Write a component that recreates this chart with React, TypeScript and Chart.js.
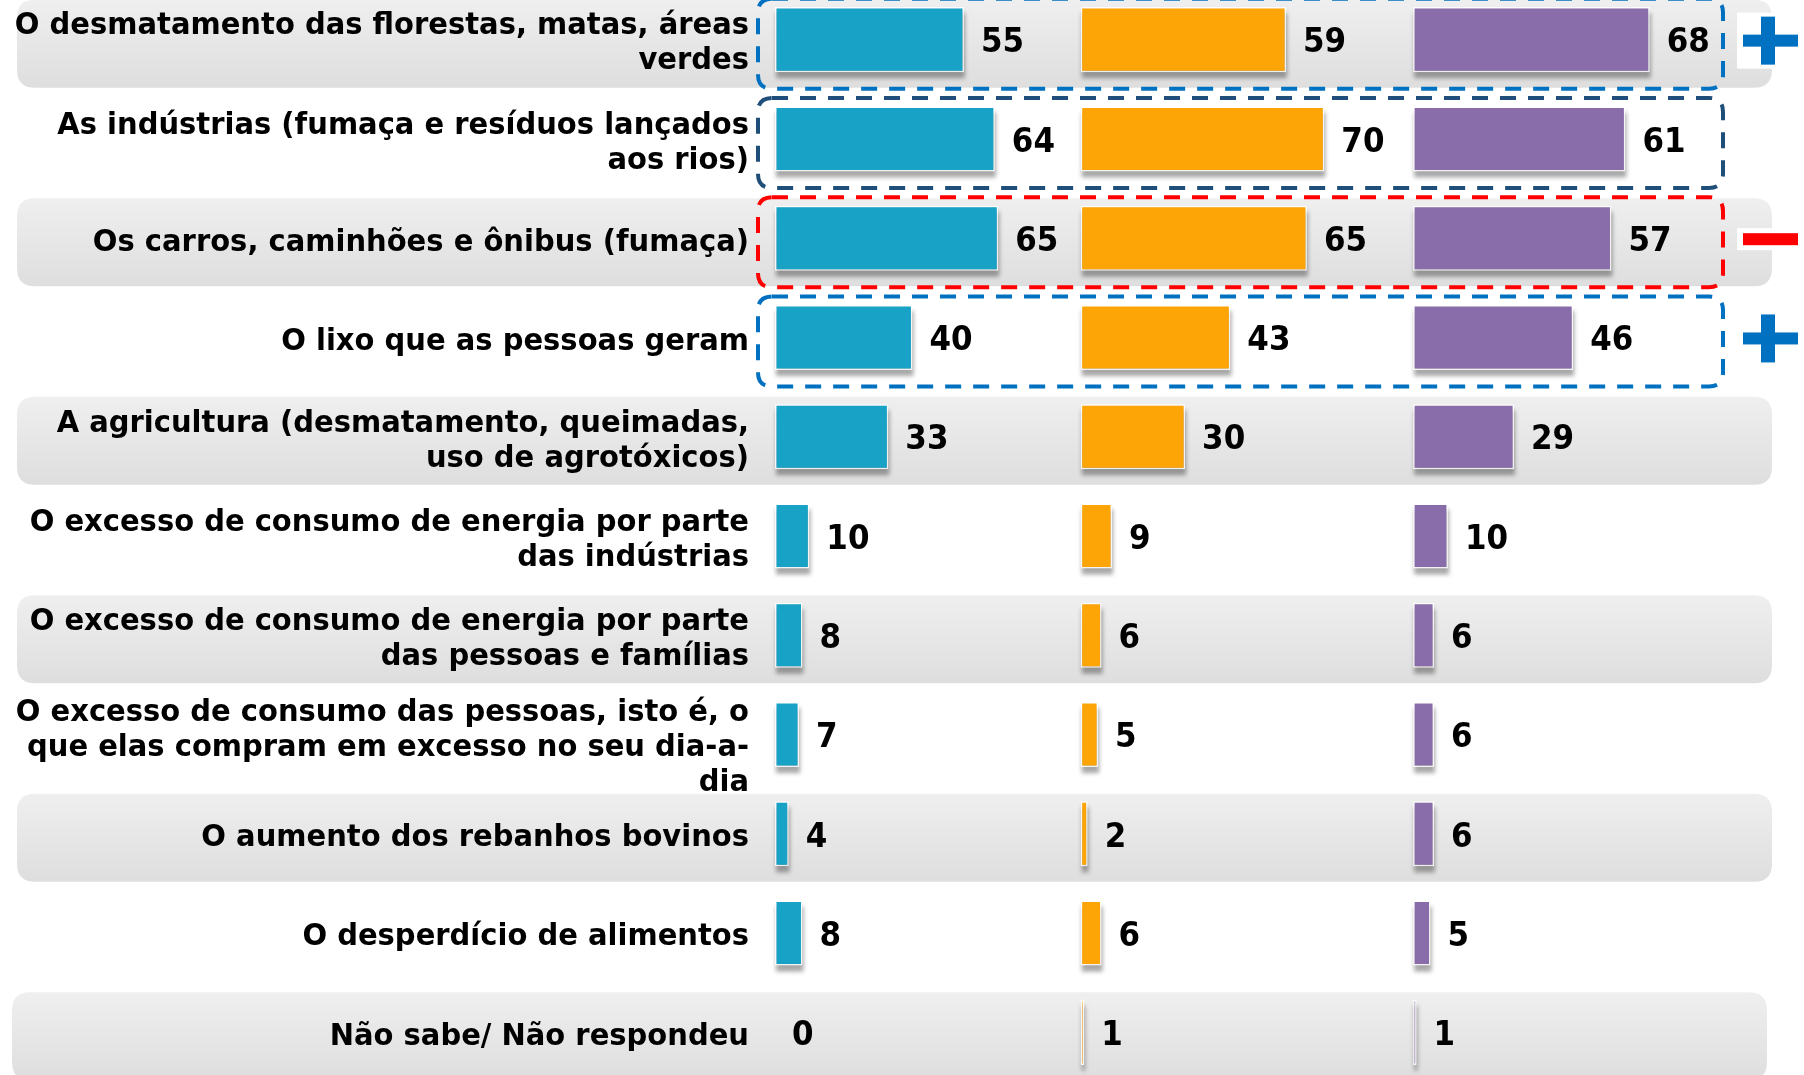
import React, { useEffect, useRef } from "react";
import { Chart, registerables } from "chart.js";

Chart.register(...registerables);

// ---- Data ----
const categoryLines: string[][] = [
  ["O desmatamento das florestas, matas, áreas", "verdes"],
  ["As indústrias (fumaça e resíduos lançados", "aos rios)"],
  ["Os carros, caminhões e ônibus (fumaça)"],
  ["O lixo que as pessoas geram"],
  ["A agricultura (desmatamento, queimadas,", "uso de agrotóxicos)"],
  ["O excesso de consumo de energia por parte", "das indústrias"],
  ["O excesso de consumo de energia por parte", "das pessoas e famílias"],
  ["O excesso de consumo das pessoas, isto é, o", "que elas compram em excesso no seu dia-a-", "dia"],
  ["O aumento dos rebanhos bovinos"],
  ["O desperdício de alimentos"],
  ["Não sabe/ Não respondeu"],
];
const categories = categoryLines.map((l) => l.join(" "));

const seriesNames = ["Série 1", "Série 2", "Série 3"];
const tealValues = [55, 64, 65, 40, 33, 10, 8, 7, 4, 8, 0];
const orangeValues = [59, 70, 65, 43, 30, 9, 6, 5, 2, 6, 1];
const purpleValues = [68, 61, 57, 46, 29, 10, 6, 6, 6, 5, 1];

const seriesColors = ["#17A2C6", "#FDA507", "#896DAA"];

const bandRows = [0, 2, 4, 6, 8, 10];
const highlightRows = [0, 1, 2, 3];
const highlightColors = ["#0070C0", "#1F4E79", "#FF0000", "#0070C0"];
const signRows = [0, 2, 3];
const signTypes = ["+", "-", "+"];
const signColors = ["#0070C0", "#FF0000", "#0070C0"];

const W = 1804;
const H = 1092;

function roundRect(ctx: CanvasRenderingContext2D, x: number, y: number, w: number, h: number, r: number) {
  ctx.beginPath();
  ctx.moveTo(x + r, y);
  ctx.lineTo(x + w - r, y);
  ctx.quadraticCurveTo(x + w, y, x + w, y + r);
  ctx.lineTo(x + w, y + h - r);
  ctx.quadraticCurveTo(x + w, y + h, x + w - r, y + h);
  ctx.lineTo(x + r, y + h);
  ctx.quadraticCurveTo(x, y + h, x, y + h - r);
  ctx.lineTo(x, y + r);
  ctx.quadraticCurveTo(x, y, x + r, y);
  ctx.closePath();
}

function stretchedText(ctx: CanvasRenderingContext2D, text: string, x: number, y: number, sy: number) {
  ctx.save();
  ctx.translate(x, y);
  ctx.scale(1, sy);
  ctx.fillText(text, 0, 0);
  ctx.restore();
}

const decorPlugin = {
  id: "decor",
  beforeDatasetsDraw(chart: any) {
    const ctx: CanvasRenderingContext2D = chart.ctx;
    const ys = chart.scales.y;
    // gray bands
    bandRows.forEach((r) => {
      const cy = ys.getPixelForValue(r) + 4;
      const last = r === categories.length - 1;
      const x0 = last ? 12 : 17;
      const x1 = last ? 1767 : 1772;
      const top = cy - 44;
      const g = ctx.createLinearGradient(0, top, 0, top + 88);
      g.addColorStop(0, "#efefef");
      g.addColorStop(1, "#dedede");
      ctx.save();
      ctx.fillStyle = g;
      roundRect(ctx, x0, top, x1 - x0, 88, 18);
      ctx.fill();
      ctx.restore();
    });
    // category labels
    ctx.save();
    ctx.fillStyle = "#000";
    ctx.font = 'bold 29px "DejaVu Sans", Verdana, sans-serif';
    ctx.textAlign = "right";
    ctx.textBaseline = "middle";
    categoryLines.forEach((lines, i) => {
      const n = lines.length;
      const cy = ys.getPixelForValue(i) + 4.5 + Math.max(0, n - 2) * 9;
      lines.forEach((t, k) => {
        stretchedText(ctx, t, 749, cy + (k - (n - 1) / 2) * 35, 1.04);
      });
    });
    ctx.restore();
    // bar shadows
    chart.data.datasets.forEach((_ds: any, di: number) => {
      const meta = chart.getDatasetMeta(di);
      meta.data.forEach((bar: any) => {
        const p = bar.getProps(["x", "y", "base", "height"], true);
        const w = p.x - p.base;
        if (w < 0.5) return;
        ctx.save();
        ctx.filter = "blur(2px)";
        ctx.fillStyle = "rgba(0,0,0,0.34)";
        ctx.fillRect(p.base + 1, p.y - p.height / 2 + 6, w, p.height);
        ctx.restore();
      });
    });
  },
  afterDatasetsDraw(chart: any) {
    const ctx: CanvasRenderingContext2D = chart.ctx;
    const ys = chart.scales.y;
    // value labels
    ctx.save();
    ctx.fillStyle = "#000";
    ctx.font = 'bold 31px "DejaVu Sans", Verdana, sans-serif';
    ctx.textAlign = "left";
    ctx.textBaseline = "middle";
    chart.data.datasets.forEach((ds: any, di: number) => {
      const meta = chart.getDatasetMeta(di);
      meta.data.forEach((bar: any, i: number) => {
        const p = bar.getProps(["x", "y"], true);
        stretchedText(ctx, String(ds.data[i]), p.x + 17, p.y + 4, 1.08);
      });
    });
    ctx.restore();
    // dashed highlight boxes
    highlightRows.forEach((r, k) => {
      const cy = ys.getPixelForValue(r) + 4;
      ctx.save();
      ctx.strokeStyle = highlightColors[k];
      ctx.lineWidth = 4;
      ctx.setLineDash([16, 12]);
      roundRect(ctx, 758, cy - 45, 1723 - 758, 90, 14);
      ctx.stroke();
      ctx.restore();
    });
    // plus / minus signs
    signRows.forEach((r, k) => {
      const cy = ys.getPixelForValue(r) + 1;
      ctx.save();
      ctx.fillStyle = "#ffffff";
      if (signTypes[k] === "+") {
        ctx.fillRect(1737, cy - 28, 36, 56);
      } else {
        ctx.fillRect(1737, cy - 11, 36, 22);
      }
      ctx.fillStyle = signColors[k];
      ctx.fillRect(1743, cy - 6, 55, 12);
      if (signTypes[k] === "+") {
        ctx.fillRect(1761, cy - 24, 14, 48);
      }
      ctx.restore();
    });
  },
};

export default function App() {
  const ref = useRef<HTMLCanvasElement | null>(null);

  useEffect(() => {
    if (!ref.current) return;
    const common = {
      grouped: false,
      barPercentage: 0.655,
      categoryPercentage: 1,
      borderWidth: 1.5,
      borderColor: "rgba(255,255,255,0.85)",
      borderSkipped: false,
    };
    const chart = new Chart(ref.current, {
      type: "bar",
      data: {
        labels: categories,
        datasets: [
          { ...common, label: seriesNames[0], data: tealValues, xAxisID: "x1", backgroundColor: seriesColors[0] },
          { ...common, label: seriesNames[1], data: orangeValues, xAxisID: "x2", backgroundColor: seriesColors[1] },
          { ...common, label: seriesNames[2], data: purpleValues, xAxisID: "x3", backgroundColor: seriesColors[2] },
        ] as any,
      },
      options: {
        indexAxis: "y",
        animation: false,
        responsive: false,
        maintainAspectRatio: false,
        layout: { padding: { left: 775, right: 29, top: 0, bottom: 0 } },
        plugins: { legend: { display: false }, tooltip: { enabled: false } },
        scales: {
          y: { type: "category", display: false, offset: true },
          x1: { type: "linear", axis: "x", display: false, min: 0, max: 291.1 },
          x2: { type: "linear", axis: "x", display: false, min: -87.84, max: 199.5 },
          x3: { type: "linear", axis: "x", display: false, min: -183.4, max: 104.0 },
        },
      } as any,
      plugins: [decorPlugin],
    });
    return () => chart.destroy();
  }, []);

  return (
    <div
      style={{
        position: "fixed",
        left: 0,
        top: 0,
        width: W,
        height: 1075,
        overflow: "hidden",
        background: "#ffffff",
      }}
    >
      <canvas
        ref={ref}
        width={W}
        height={H}
        style={{ position: "absolute", left: 0, top: -10, width: W, height: H, display: "block" }}
      />
    </div>
  );
}
